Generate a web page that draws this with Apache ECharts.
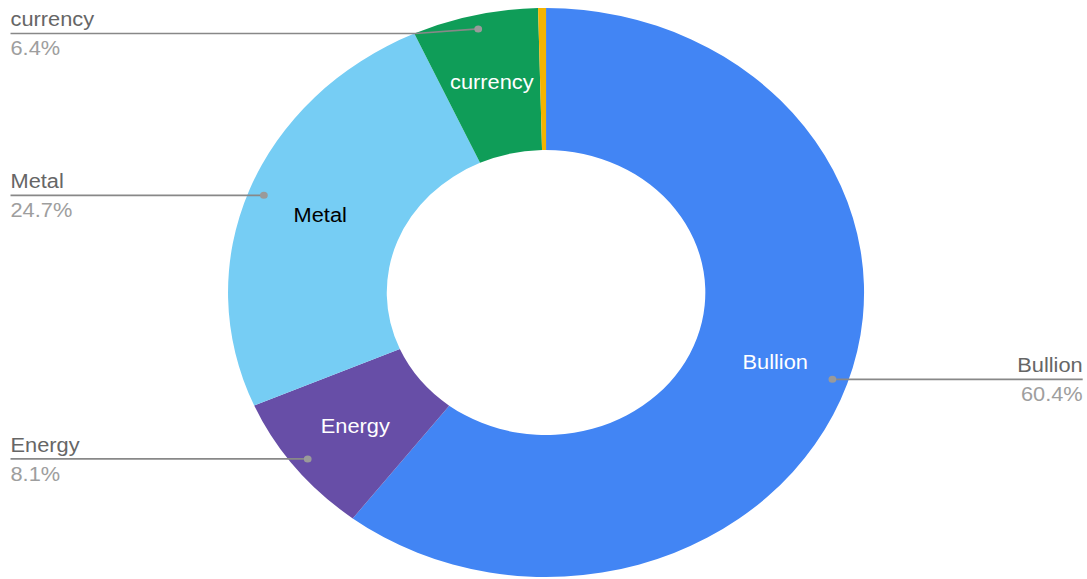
<!DOCTYPE html>
<html>
<head>
<meta charset="utf-8">
<script src="https://cdn.jsdelivr.net/npm/echarts@6/dist/echarts.min.js"></script>
<style>
html,body{margin:0;padding:0;background:#ffffff;overflow:hidden;}
#wrap{width:1087px;height:579px;overflow:hidden;}
#chart{width:972.4px;height:579px;transform:scaleX(1.1178);transform-origin:0 0;}
</style>
</head>
<body>
<div id="wrap"><div id="chart"></div></div>
<script>
// ---- data ----
const categories = ['Bullion', 'Energy', 'Metal', 'currency', 'Other'];
const shares = [60.4, 8.1, 24.7, 6.4, 0.4];
const sliceColors = ['#4285F4', '#674EA7', '#76CDF4', '#0F9D58', '#F4B400'];
const insideLabelColors = ['#ffffff', '#ffffff', '#000000', '#ffffff', '#ffffff'];
const labelled = [true, true, true, true, false];

// ---- layout constants ----
const FONT = "'Liberation Sans', Arial, sans-serif";
const FS = 19.5;
const CX = 488.5, CY = 292.5;
const R_IN = 142.5, R_OUT = 284.5, R_DOT = 270.5;
const LEFT_X = 9.4, RIGHT_X = 968.6, LABEL_TOP = 33.5, BEND = 56;

const chart = echarts.init(document.getElementById('chart'), null, { renderer: 'svg' });

const donutData = categories.map((c, i) => ({
  name: c, value: shares[i],
  itemStyle: { color: sliceColors[i] },
  label: { show: labelled[i], color: insideLabelColors[i] }
}));
const outerData = categories.map((c, i) => ({
  name: c, value: shares[i],
  label: { show: labelled[i] },
  labelLine: { show: labelled[i] }
}));
const dotData = categories.map((c, i) => ({
  name: c, value: shares[i],
  label: { show: labelled[i] }
}));

chart.setOption({
  animation: false,
  backgroundColor: '#ffffff',
  series: [
    {
      type: 'pie',
      z: 2,
      center: [CX, CY],
      radius: [R_IN, R_OUT],
      startAngle: 90,
      clockwise: true,
      silent: true,
      avoidLabelOverlap: false,
      itemStyle: { borderWidth: 0 },
      label: {
        position: 'inside',
        fontFamily: FONT,
        fontSize: FS,
        formatter: '{b}'
      },
      labelLine: { show: false },
      data: donutData
    },
    {
      type: 'pie',
      z: 5,
      center: [CX, CY],
      radius: [0, R_DOT],
      startAngle: 90,
      clockwise: true,
      silent: true,
      avoidLabelOverlap: false,
      itemStyle: { color: 'rgba(0,0,0,0)', borderWidth: 0 },
      label: {
        position: 'outer',
        alignTo: 'edge',
        edgeDistance: 9,
        fontFamily: FONT,
        formatter: p => '{n|' + p.name + '}\n{p|' + p.value.toFixed(1) + '%}',
        rich: {
          n: { fontFamily: FONT, fontSize: FS, color: '#666666', lineHeight: 29 },
          p: { fontFamily: FONT, fontSize: FS, color: '#9e9e9e', lineHeight: 29 }
        }
      },
      labelLine: {
        show: true,
        length: 10,
        length2: 10,
        lineStyle: { color: '#888888', width: 1.7 }
      },
      labelLayout: function (p) {
        const pts = p.labelLinePoints;
        if (!pts) return {};
        const start = pts[0];
        const isLeft = start[0] < CX;
        const lineY = Math.max(start[1], LABEL_TOP);
        const endX = isLeft ? LEFT_X : RIGHT_X;
        return {
          x: endX,
          y: lineY,
          align: isLeft ? 'left' : 'right',
          verticalAlign: 'middle',
          labelLinePoints: [
            [start[0], start[1]],
            [start[0] + (isLeft ? -1 : 1) * BEND, lineY],
            [endX, lineY]
          ]
        };
      },
      data: outerData
    },
    {
      type: 'pie',
      z: 8,
      center: [CX, CY],
      // inside labels sit 3px outward of the ring middle, so centre the ring 3px inward
      radius: [R_DOT - 11, R_DOT + 5],
      startAngle: 90,
      clockwise: true,
      silent: true,
      avoidLabelOverlap: false,
      itemStyle: { color: 'rgba(0,0,0,0)', borderWidth: 0 },
      label: {
        position: 'inside',
        formatter: '{d| }',
        rich: {
          d: { width: 7, height: 7, lineHeight: 7, fontSize: 1, borderRadius: 3.5, backgroundColor: '#9a9a9a' }
        }
      },
      labelLine: { show: false },
      data: dotData
    }
  ]
});
</script>
</body>
</html>
